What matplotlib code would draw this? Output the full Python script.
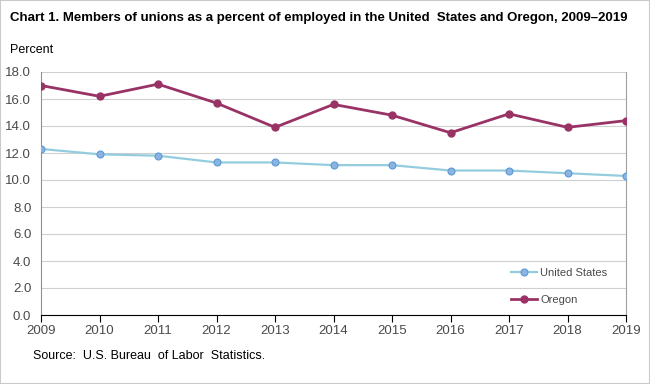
import matplotlib.pyplot as plt
from matplotlib.patches import Rectangle

years = [2009, 2010, 2011, 2012, 2013, 2014, 2015, 2016, 2017, 2018, 2019]
united_states = [12.3, 11.9, 11.8, 11.3, 11.3, 11.1, 11.1, 10.7, 10.7, 10.5, 10.3]
oregon = [17.0, 16.2, 17.1, 15.7, 13.9, 15.6, 14.8, 13.5, 14.9, 13.9, 14.4]
y_ticks = [0, 2, 4, 6, 8, 10, 12, 14, 16, 18]

plt.rcParams["font.family"] = ["Liberation Sans", "DejaVu Sans"]
TICK_COLOR = "#4a4a4a"

fig = plt.figure(figsize=(6.5, 3.84), dpi=100)
fig.patches.append(Rectangle((0, 0), 1, 1, transform=fig.transFigure, fill=False,
                             edgecolor="#c8ccc8", linewidth=1.5))
ax = fig.add_axes([41 / 650, 1 - 315 / 384, 585 / 650, 243 / 384])

ax.plot(years, united_states, color="#93cddd", linewidth=1.6, marker="o", markersize=5,
        markerfacecolor="#8db3e2", markeredgecolor="#5b9bd5", markeredgewidth=0.8,
        label="United States", zorder=3)
ax.plot(years, oregon, color="#993366", linewidth=2, marker="o", markersize=5,
        markerfacecolor="#993366", markeredgecolor="#993366", label="Oregon", zorder=3)

ax.set_xlim(2009, 2019)
ax.set_ylim(0, 18)
ax.set_xticks(years)
ax.set_yticks(y_ticks)
ax.set_yticklabels([f"{v:.1f}" for v in y_ticks])
ax.grid(axis="y", color="#d0d0d0", linewidth=0.8)
ax.set_axisbelow(True)

ax.spines["top"].set_visible(False)
ax.spines["right"].set_color("#a0a0a0")
ax.spines["right"].set_linestyle((0, (1, 1)))
ax.spines["left"].set_color("#8a948a")
ax.spines["bottom"].set_color("black")
ax.tick_params(axis="y", length=0, pad=7, labelsize=9.5, labelcolor=TICK_COLOR)
ax.tick_params(axis="x", length=5, direction="out", pad=2, labelsize=9.5, labelcolor=TICK_COLOR)

leg = ax.legend(loc="lower right", bbox_to_anchor=(0.985, 0.0), frameon=False, fontsize=8,
                handlelength=2.4, labelspacing=1.55, handletextpad=0.25)
for t in leg.get_texts():
    t.set_color(TICK_COLOR)

fig.text(10 / 650, 1 - 18 / 384, "Chart 1. Members of unions as a percent of employed in the United  States and Oregon, 2009\u20132019",
         fontsize=9.5, fontweight="bold", va="center", ha="left")
fig.text(10 / 650, 1 - 50 / 384, "Percent", fontsize=9, va="center", ha="left")
fig.text(33 / 650, 1 - 356 / 384, "Source:  U.S. Bureau  of Labor  Statistics.", fontsize=9,
         va="center", ha="left")

fig.savefig("out.png", dpi=100)
